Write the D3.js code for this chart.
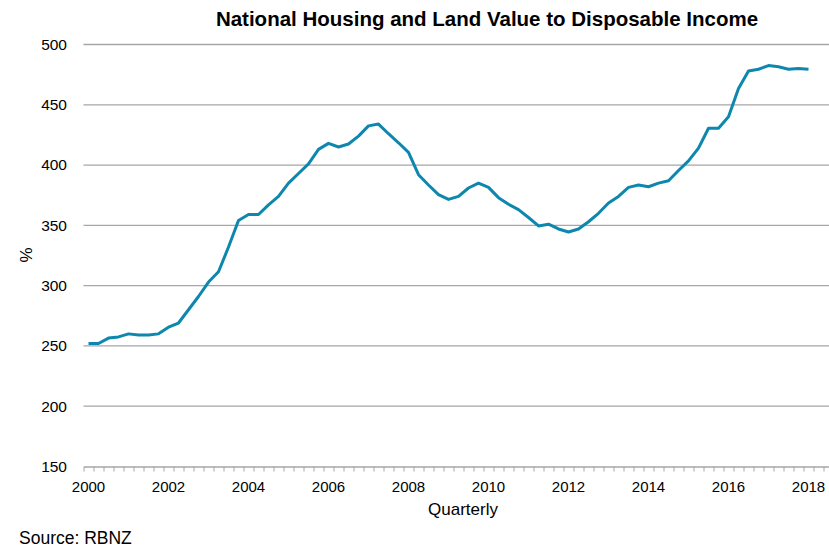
<!DOCTYPE html>
<html>
<head>
<meta charset="utf-8">
<script src="https://cdn.jsdelivr.net/npm/d3@7"></script>
<style>
  body { margin: 0; background: #fff; }
  text { font-family: "Liberation Sans", Arial, sans-serif; fill: #000; }
</style>
</head>
<body>
<div id="root"></div>
<script>
// quarterly values, 2000 Q1 .. 2018 Q1
const startYear = 2000
const values = [
  252, 252, 256.5, 257.5, 260, 259, 259, 260,
  265.5, 269, 280, 291, 303, 311.5, 332, 354,
  359, 359, 367, 374, 385, 393, 401, 413,
  418, 415, 417.5, 424, 432.5, 434, 426, 418.5,
  410.5, 392, 383.5, 375.5, 371.5, 374, 381, 385,
  381.5, 373, 367.5, 363, 356.5, 349.5, 351, 347,
  344.5, 347, 353, 360, 368.5, 374, 381.5, 383.5,
  382, 385, 387, 395.5, 403.5, 414, 430.5, 430.5,
  440, 463.5, 478, 479.5, 482.5, 481.5, 479.5, 480,
  479.5
]
const nCats = 75
const yTicks = [150, 200, 250, 300, 350, 400, 450, 500]
const yearLabels = d3.range(0, values.length, 8)

const width = 829, height = 549
const plot = { left: 83.5, top: 44.5, bottom: 466.5 }
const catW = 10

const svg = d3.select('#root').append('svg')
  .attr('width', width)
  .attr('height', height)

const x = d3.scaleLinear()
  .domain([-0.5, nCats - 0.5])
  .range([plot.left, plot.left + nCats * catW])

const y = d3.scaleLinear()
  .domain([150, 500])
  .range([plot.bottom, plot.top])

// gridlines
svg.append('g')
  .selectAll('line')
  .data(yTicks.slice(1))
  .join('line')
  .attr('x1', plot.left)
  .attr('x2', width)
  .attr('y1', d => y(d))
  .attr('y2', d => y(d))
  .attr('stroke', '#a6a6a6')
  .attr('stroke-width', 1.3)

// y labels
svg.append('g')
  .selectAll('text')
  .data(yTicks)
  .join('text')
  .attr('x', 67)
  .attr('y', d => y(d))
  .attr('dy', '0.35em')
  .attr('text-anchor', 'end')
  .attr('font-size', 15.5)
  .text(d => d)

// x axis: quarter tick marks between categories
const xAxis = svg.append('g')
  .attr('transform', `translate(0, ${plot.bottom})`)
  .call(d3.axisBottom(x)
    .tickValues(d3.range(-0.5, nCats, 1))
    .tickFormat('')
    .tickSize(5)
    .tickSizeOuter(0))
xAxis.select('.domain').attr('stroke', '#a6a6a6').attr('stroke-width', 1.3)
xAxis.selectAll('.tick line').attr('stroke', '#a6a6a6')

// year labels
svg.append('g')
  .selectAll('text')
  .data(yearLabels)
  .join('text')
  .attr('x', d => x(d))
  .attr('y', 487)
  .attr('dy', '0.35em')
  .attr('text-anchor', 'middle')
  .attr('font-size', 15)
  .text(d => startYear + d / 4)

// line
svg.append('path')
  .datum(values)
  .attr('fill', 'none')
  .attr('stroke', '#0d87ad')
  .attr('stroke-width', 3)
  .attr('stroke-linejoin', 'round')
  .attr('d', d3.line().x((d, i) => x(i)).y(d => y(d)))

// titles
svg.append('text')
  .attr('x', 487)
  .attr('y', 26)
  .attr('text-anchor', 'middle')
  .attr('font-size', 20.5)
  .attr('font-weight', 'bold')
  .text('National Housing and Land Value to Disposable Income')

svg.append('text')
  .attr('x', 463)
  .attr('y', 515)
  .attr('text-anchor', 'middle')
  .attr('font-size', 17)
  .text('Quarterly')

svg.append('text')
  .attr('transform', 'translate(32, 255) rotate(-90)')
  .attr('text-anchor', 'middle')
  .attr('font-size', 17)
  .text('%')

svg.append('text')
  .attr('x', 19)
  .attr('y', 544)
  .attr('font-size', 17.5)
  .text('Source: RBNZ')
</script>
</body>
</html>
